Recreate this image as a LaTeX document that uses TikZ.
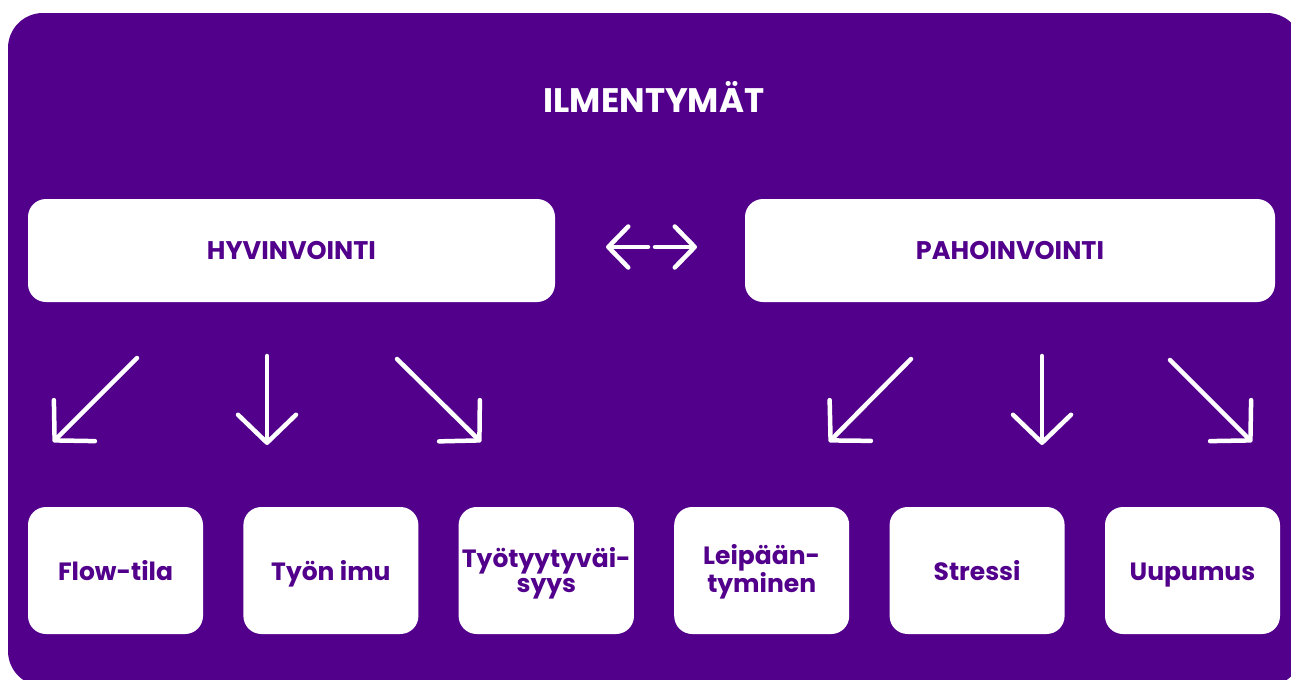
\documentclass[tikz,border=0pt]{standalone}
\usepackage{fontspec}
\setmainfont{Poppins}[BoldFont={Poppins Bold}]
\usetikzlibrary{arrows.meta,positioning}
\definecolor{violetti}{RGB}{82,0,140}
\tikzstyle{every node}=[font=\bfseries,text=violetti]
\tikzstyle{paalaatikko} = [fill=white,rounded corners=18pt,minimum width=527pt,minimum height=103pt,font=\bfseries\fontsize{25.5}{28}\selectfont]
\tikzstyle{pikkulaatikko} = [fill=white,rounded corners=18pt,minimum width=175pt,minimum height=127pt,align=center,text height=19pt,text depth=0pt,font=\bfseries\fontsize{25}{25}\selectfont]
\tikzstyle{kaksirivi} = [text height=44pt]
\tikzstyle{nuoli} = [white,line width=4.5pt,line cap=round,-{Straight Barb[length=28pt,width=58pt,round]}]
\tikzstyle{pikkunuoli} = [white,line width=4.5pt,line cap=round,-{Straight Barb[length=20pt,width=41pt,round]}]

\begin{document}
\begin{tikzpicture}[x=1pt,y=-1pt]
\useasboundingbox (0,0) rectangle (1291,680);
\clip (0,0) rectangle (1291,680);
\fill[violetti,rounded corners=35pt] (8,13) rectangle (1302,686);

\node[text=white,font=\bfseries\fontsize{34}{36}\selectfont] (otsikko) at (654,97) {ILMENTYMÄT};

\node[paalaatikko] (hyvin) at (291.5,250.5) {HYVINVOINTI};
\node[paalaatikko,minimum width=530pt] (pahoin) at (1010,250.5) {PAHOINVOINTI};

% kaksisuuntainen nuoli
\coordinate (v1) at (648,247);
\coordinate (v2) at (606,247);
\coordinate (o1) at (655,247);
\coordinate (o2) at (697,247);
\draw[pikkunuoli] (v1) -- (v2);
\draw[pikkunuoli] (o1) -- (o2);

% alalaatikot
\foreach \i/\teksti/\tyyli in {1/Flow-tila/,2/Työn imu/,3/{Työtyytyväi-\\syys}/kaksirivi,4/{Leipään-\\tyminen}/kaksirivi,5/Stressi/,6/Uupumus/}
{\node[pikkulaatikko,\tyyli] (l\i) at ({115.5+215.4*(\i-1)},570.5) {\teksti};}

% nuolet
\foreach \n/\ax/\ay/\bx/\by in {a/137/358/53/442,b/267/356/267/445,c/397/359/481/442,d/911/359/829/442,e/1042/356/1042/445,f/1170/360/1252/442}
{\coordinate (\n1) at (\ax,\ay);
\coordinate (\n2) at (\bx,\by);
\draw[nuoli] (\n1) -- (\n2);}
\end{tikzpicture}
\end{document}
